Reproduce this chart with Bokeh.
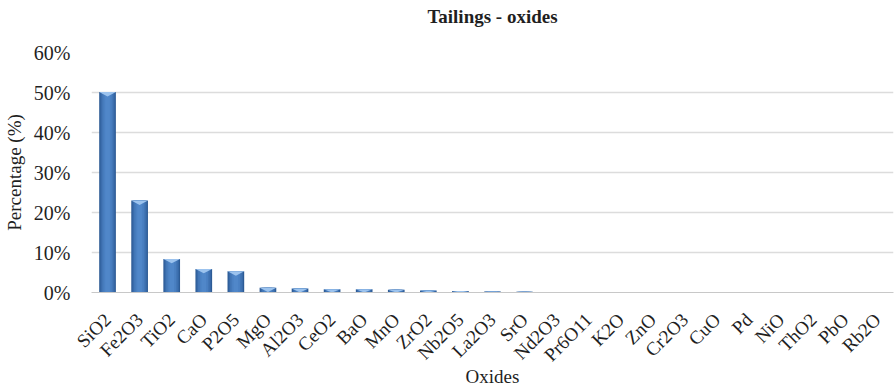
from bokeh.plotting import figure
from bokeh.models import (Range1d, FixedTicker, NumeralTickFormatter,
                          CustomJSTickFormatter, ColumnDataSource, Title)
from bokeh.embed import file_html
from bokeh.resources import INLINE
import math

# Oxide composition of the tailings (percent by mass)
oxides = ["SiO2", "Fe2O3", "TiO2", "CaO", "P2O5", "MgO", "Al2O3", "CeO2", "BaO",
          "MnO", "ZrO2", "Nb2O5", "La2O3", "SrO", "Nd2O3", "Pr6O11", "K2O", "ZnO",
          "Cr2O3", "CuO", "Pd", "NiO", "ThO2", "PbO", "Rb2O"]
percent = [50.1, 23.0, 8.4, 5.9, 5.3, 1.2, 1.0, 0.8, 0.8, 0.7, 0.5, 0.35, 0.25,
           0.2, 0.1, 0.05, 0.03, 0.03, 0.02, 0.02, 0.02, 0.02, 0.01, 0.01, 0.01]
y_ticks = [0.0, 0.1, 0.2, 0.3, 0.4, 0.5, 0.6]

FONT = "Liberation Serif"
TEXT = "#1f1f1f"

x = [i + 0.5 for i in range(len(oxides))]
frac = [v / 100 for v in percent]
src = ColumnDataSource(dict(x=x, top=frac))

p = figure(width=895, height=389, output_backend="svg", toolbar_location=None,
           x_range=Range1d(0, len(oxides)), y_range=Range1d(0, 0.6),
           min_border_left=86, min_border_right=2, min_border_bottom=97,
           min_border_top=52)
p.outline_line_color = None
p.background_fill_color = "white"
p.border_fill_color = "white"

# blank band between the title and the plot area, then the title itself
p.add_layout(Title(text=" ", text_font_size="2px", standoff=22), "above")
p.add_layout(Title(text="Tailings - oxides", align="center", standoff=0,
                   text_font=FONT, text_font_size="19px",
                   text_font_style="bold", text_color=TEXT), "above")

# bars: layered widths give a rounded, shaded column
BAR_W = 0.52
shades = [(1.00, "#2d5b95"), (0.86, "#386aa9"), (0.70, "#4276b6"),
          (0.50, "#4a80c2"), (0.28, "#5087c9")]
for frac_w, col in shades:
    p.vbar(x="x", top="top", bottom=0, width=BAR_W * frac_w, source=src,
           fill_color=col, line_color=None)

# bevelled cap on top of each column
bevel_xs, bevel_ys = [], []
for xi, t in zip(x, frac):
    d = min(0.011, t)
    bevel_xs.append([xi - BAR_W / 2, xi + BAR_W / 2, xi])
    bevel_ys.append([t, t, t - d])
p.patches(bevel_xs, bevel_ys, fill_color="#9cc3ee", line_color=None)

# y axis
p.yaxis.ticker = FixedTicker(ticks=y_ticks)
p.yaxis.formatter = NumeralTickFormatter(format="0%")
p.yaxis.axis_line_color = None
p.yaxis.major_tick_line_color = None
p.yaxis.minor_tick_line_color = None
p.yaxis.major_label_standoff = 15
p.yaxis.major_label_text_font = FONT
p.yaxis.major_label_text_font_size = "20px"
p.yaxis.major_label_text_color = TEXT
p.yaxis.axis_label = "Percentage (%)"
p.yaxis.axis_label_text_font = FONT
p.yaxis.axis_label_text_font_size = "19px"
p.yaxis.axis_label_text_font_style = "normal"
p.yaxis.axis_label_text_color = TEXT
p.yaxis.axis_label_standoff = 6

# x axis with oxide names
p.xaxis.ticker = FixedTicker(ticks=x)
p.xaxis.formatter = CustomJSTickFormatter(args=dict(names=oxides),
                                          code="return names[Math.floor(tick)]")
p.xaxis.major_label_orientation = math.pi / 4
p.xaxis.axis_line_color = "#c8c8c8"
p.xaxis.major_tick_line_color = None
p.xaxis.minor_tick_line_color = None
p.xaxis.major_label_standoff = 18
p.xaxis.major_label_text_font = FONT
p.xaxis.major_label_text_font_size = "19px"
p.xaxis.major_label_text_color = TEXT
p.xaxis.axis_label = "Oxides"
p.xaxis.axis_label_text_font = FONT
p.xaxis.axis_label_text_font_size = "19px"
p.xaxis.axis_label_text_font_style = "normal"
p.xaxis.axis_label_text_color = TEXT
p.xaxis.axis_label_standoff = -10

p.xgrid.grid_line_color = None
p.ygrid.grid_line_color = "#dcdcdc"
p.ygrid.grid_line_width = 1.5

open("out.html", "w").write(file_html(p, INLINE))
